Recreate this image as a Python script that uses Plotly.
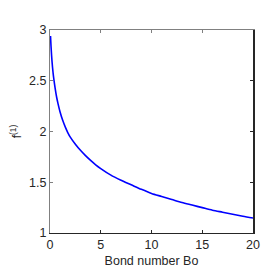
import plotly.graph_objects as go

bond_number = [0.05, 0.1, 0.2, 0.3, 0.4, 0.5, 0.65, 0.8, 1.0, 1.25, 1.5, 1.75, 2.0, 2.5, 3.0, 3.5,
               4.0, 4.5, 5, 6, 7, 8, 9, 10, 11, 12, 13, 14, 15, 16, 17, 18, 19, 20]
f1 = [2.94, 2.84, 2.69, 2.58, 2.50, 2.43, 2.34, 2.27, 2.19, 2.11, 2.045, 1.99, 1.945, 1.875, 1.815, 1.762,
      1.715, 1.672, 1.635, 1.57, 1.52, 1.475, 1.43, 1.39, 1.36, 1.33, 1.30, 1.275, 1.25, 1.225, 1.205,
      1.185, 1.165, 1.147]

x_ticks = [0, 5, 10, 15, 20]
y_ticks = [1, 1.5, 2, 2.5, 3]

font = dict(family="Liberation Sans, Arial, sans-serif", size=12.5, color="#262626")

fig = go.Figure()
fig.add_trace(go.Scatter(x=bond_number, y=f1, mode="lines",
                         line=dict(color="#0000FF", width=1.6, shape="spline", smoothing=0.8),
                         showlegend=False))
# invisible trace to activate overlay axes
fig.add_trace(go.Scatter(x=[0], y=[1], xaxis="x2", yaxis="y2", mode="markers",
                         marker=dict(opacity=0), showlegend=False, hoverinfo="skip"))

# page body has an 8px default margin, so the figure is offset by 8px
fig.update_layout(
    width=263, height=263,
    margin=dict(l=41.5, r=17.7, t=21.5, b=38),
    paper_bgcolor="white", plot_bgcolor="white",
    font=font,
    xaxis=dict(range=[0, 20], tickvals=x_ticks, ticks="inside", ticklen=3,
               tickcolor="#262626", showline=True, linecolor="#262626", linewidth=1,
               showgrid=False, zeroline=False, automargin=False,
               title=dict(text="Bond number Bo", font=font, standoff=5)),
    yaxis=dict(range=[1, 3], tickvals=y_ticks, ticks="inside", ticklen=3,
               tickcolor="#808080", showline=True, linecolor="#808080", linewidth=1,
               showgrid=False, zeroline=False, automargin=False,
               title=dict(text="f<sup>(1)</sup>", font=dict(family=font["family"], size=12, color="#262626"), standoff=8)),
    xaxis2=dict(range=[0, 20], tickvals=x_ticks, ticks="inside", ticklen=3,
                overlaying="x", side="top", showticklabels=False,
                tickcolor="#808080", showline=True, linecolor="#808080", linewidth=1,
                showgrid=False, zeroline=False),
    yaxis2=dict(range=[1, 3], tickvals=y_ticks, ticks="inside", ticklen=3,
                overlaying="y", side="right", showticklabels=False,
                tickcolor="#262626", showline=True, linecolor="#262626", linewidth=1.5,
                showgrid=False, zeroline=False),
)

fig.write_html("out.html")
